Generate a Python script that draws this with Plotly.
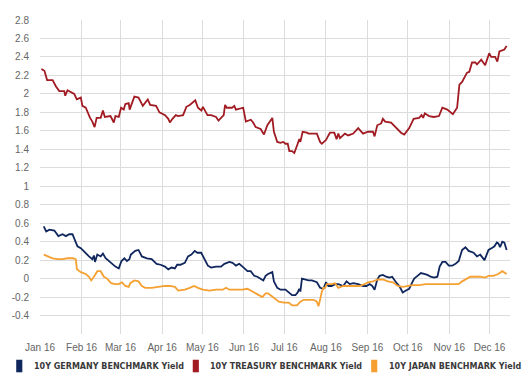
import pandas as pd
import plotly.graph_objects as go

# ---- data (day offset from 2016-01-01, yield %) ----
us_days = [1, 3.3, 5.3, 9.4, 11.9, 14.4, 18.1, 18.8, 20.5, 25.5, 27.4, 30.4, 31.6, 34.1, 37.3, 39, 40.7,
           42.2, 45.2, 46.9, 48.3, 52.5, 55, 56.2, 58.7, 60.4, 62.4, 63.6, 66.1, 66.8, 70.3, 73.4, 76.6,
           80.3, 82.1, 86.5, 89, 93.2, 95.6, 96.8, 98.7, 101.2, 102.9, 104.9, 106.6, 109.1, 111.6, 115.7,
           117.7, 120.2, 121.4, 124.8, 127.5, 131.2, 133, 136.9, 137.9, 139.1, 143.1, 144.8, 146, 151.4,
           153.4, 157.1, 158.8, 160.7, 164.4, 166.9, 169.4, 173.1, 174.3, 176.8, 179.2, 181.2, 182.9,
           184.6, 185.8, 187.8, 189.5, 192, 193.2, 194, 195.7, 198.9, 200.1, 206.3, 208.7, 210, 213.1,
           214.9, 216.1, 219.3, 221, 222.3, 223.5, 227.2, 229.7, 233.4, 237.1, 240.7, 244.4, 248.1, 249.3,
           251.3, 254.2, 255.5, 257.2, 261.6, 265.3, 269, 271.4, 272.7, 275.1, 278.4, 282.5, 284.3, 285.5,
           286.7, 289.9, 293.6, 297.3, 299.8, 303.5, 307.6, 310.8, 312.5, 314.5, 318.2, 319.9, 321.9,
           324.4, 325.6, 328.8, 331.7, 334.7, 336.2, 339.1, 340.8, 342.3, 346, 347.7]
us_vals = [2.27, 2.25, 2.15, 2.15, 2.08, 2.03, 2.03, 1.98, 2.04, 2.0, 1.94, 1.96, 1.87, 1.85, 1.74, 1.70, 1.64,
           1.74, 1.74, 1.82, 1.75, 1.76, 1.69, 1.76, 1.75, 1.85, 1.83, 1.89, 1.90, 1.83, 1.97, 1.96, 1.87,
           1.94, 1.88, 1.87, 1.80, 1.77, 1.73, 1.69, 1.73, 1.77, 1.76, 1.77, 1.77, 1.86, 1.88, 1.93,
           1.85, 1.82, 1.86, 1.77, 1.77, 1.75, 1.71, 1.77, 1.88, 1.85, 1.85, 1.87, 1.83, 1.85,
           1.70, 1.72, 1.69, 1.64, 1.62, 1.56, 1.66, 1.74, 1.59, 1.48, 1.47, 1.48, 1.46,
           1.46, 1.38, 1.38, 1.36, 1.46, 1.51, 1.48, 1.59, 1.58, 1.57, 1.57, 1.48, 1.46, 1.50,
           1.55, 1.58, 1.58, 1.51, 1.57, 1.52, 1.57, 1.55, 1.57, 1.63, 1.57, 1.59, 1.59, 1.54,
           1.66, 1.68, 1.73, 1.70, 1.69, 1.63, 1.58, 1.56, 1.59, 1.63, 1.73, 1.74, 1.77, 1.74,
           1.79, 1.76, 1.75, 1.76, 1.85, 1.83, 1.78, 1.85, 2.10, 2.13, 2.23, 2.24, 2.34,
           2.34, 2.32, 2.37, 2.31, 2.44, 2.40, 2.40, 2.35, 2.46, 2.48, 2.52]

de_days = [2.8, 4.6, 7.0, 10.7, 13.7, 16.8, 19.3, 21.8, 24.2, 26.0, 27.9, 30.4, 32.3, 34.1, 36.5, 39.0, 40.2,
           41.0, 42.7, 45.2, 46.9, 48.9, 51.3, 53.7, 56.2, 58.7, 60.7, 62.9, 64.8, 66.6, 67.7, 71.0, 73.4,
           75.9, 79.6, 83.2, 86.9, 89.9, 93.1, 95.6, 98.0, 100.5, 102.2, 104.6, 107.9, 110.3, 112.8, 115.3,
           117.2, 120.1, 122.7, 125.1, 127.5, 131.2, 134.9, 137.4, 141.1, 143.5, 146.0, 148.5, 150.9, 154.6,
           157.0, 159.6, 162.0, 164.4, 166.4, 168.1, 169.9, 173.1, 174.3, 176.8, 179.2, 182.9, 185.4, 187.8,
           190.3, 192.0, 193.2, 194.0, 195.2, 197.6, 200.1, 202.6, 206.3, 208.7, 211.2, 213.1, 214.9, 217.3,
           219.8, 222.3, 226.0, 228.4, 230.8, 233.4, 237.1, 240.7, 243.2, 245.6, 247.6, 249.3, 251.3, 253.0,
           255.5, 257.9, 260.4, 262.4, 264.1, 265.8, 267.7, 270.3, 272.7, 275.1, 277.1, 278.8, 281.3, 283.8,
           286.2, 288.7, 291.1, 293.6, 296.1, 297.8, 299.8, 302.2, 304.6, 307.2, 309.6, 312.0, 314.5, 317.0,
           319.4, 323.1, 325.6, 328.0, 331.2, 334.2, 336.7, 338.6, 340.4, 341.5, 342.8, 344.5, 346.0, 347.7]
de_vals = [0.565, 0.51, 0.53, 0.52, 0.46, 0.48, 0.46, 0.48, 0.48, 0.42, 0.35, 0.33, 0.30, 0.28, 0.24, 0.21, 0.25,
           0.18, 0.26, 0.24, 0.27, 0.22, 0.19, 0.17, 0.13, 0.11, 0.19, 0.22, 0.19, 0.21, 0.26, 0.30, 0.31,
           0.24, 0.22, 0.21, 0.16, 0.15, 0.13, 0.10, 0.12, 0.11, 0.15, 0.15, 0.17, 0.24, 0.26, 0.30,
           0.28, 0.28, 0.21, 0.14, 0.12, 0.13, 0.13, 0.16, 0.18, 0.17, 0.14, 0.16, 0.13, 0.08,
           0.08, 0.03, 0.02, 0.00, -0.02, 0.03, 0.05, 0.07, -0.03, -0.10, -0.12, -0.12, -0.15, -0.18,
           -0.18, -0.15, -0.11, -0.14, 0.00, -0.01, -0.02, -0.02, -0.04, -0.10, -0.11, -0.04, -0.08, -0.08,
           -0.06, -0.06, -0.08, -0.03, -0.06, -0.05, -0.06, -0.08, -0.08, -0.06, -0.08, -0.12, -0.01, 0.03,
           0.04, 0.02, 0.01, 0.02, -0.02, -0.05, -0.08, -0.15, -0.13, -0.11, -0.05, 0.00, 0.03, 0.06,
           0.05, 0.04, 0.02, 0.01, 0.02, 0.13, 0.18, 0.18, 0.14, 0.14, 0.16, 0.19, 0.31, 0.34,
           0.30, 0.28, 0.24, 0.26, 0.20, 0.31, 0.33, 0.35, 0.39, 0.38, 0.34, 0.40, 0.39, 0.31]

jp_days = [2.8, 5.8, 9.4, 13.1, 16.8, 20.5, 24.2, 26.7, 27.5, 30.4, 34.1, 36.5, 38.2, 40.7, 42.7, 45.2, 47.6,
           50.0, 53.0, 56.2, 58.7, 61.1, 63.6, 66.1, 67.3, 70.3, 73.4, 75.9, 78.4, 83.2, 88.2, 90.6, 93.1,
           96.8, 100.5, 103.0, 107.9, 111.6, 114.8, 117.7, 121.4, 126.3, 131.2, 136.2, 138.6, 141.1, 146.0,
           150.9, 154.6, 158.3, 162.0, 165.7, 168.1, 169.9, 171.8, 174.3, 178.0, 181.7, 185.4, 187.8, 191.5,
           194.0, 196.5, 200.1, 203.8, 206.3, 207.5, 208.7, 210.0, 211.2, 212.4, 213.7, 217.3, 219.8, 222.3,
           226.0, 229.7, 234.5, 238.2, 241.9, 244.4, 248.1, 251.8, 255.5, 259.2, 262.9, 266.6, 270.3, 273.9,
           277.6, 282.5, 287.5, 292.4, 297.3, 302.2, 307.2, 312.0, 314.5, 317.0, 320.7, 324.4, 328.0, 331.7,
           334.2, 337.9, 341.5, 344.5, 346.0, 347.7]
jp_vals = [0.26, 0.24, 0.22, 0.21, 0.21, 0.22, 0.22, 0.21, 0.10, 0.07, 0.05, 0.02, -0.02, 0.03, 0.08, 0.08, 0.02,
           0.00, -0.05, -0.06, -0.06, -0.04, -0.08, -0.09, -0.05, -0.02, -0.03, -0.08, -0.10, -0.10, -0.09, -0.08, -0.08,
           -0.08, -0.09, -0.13, -0.12, -0.10, -0.08, -0.10, -0.12, -0.13, -0.12, -0.12, -0.10, -0.12, -0.12,
           -0.12, -0.11, -0.14, -0.17, -0.20, -0.16, -0.16, -0.18, -0.21, -0.25, -0.26, -0.26, -0.29, -0.29,
           -0.25, -0.23, -0.23, -0.23, -0.25, -0.30, -0.23, -0.14, -0.10, -0.10, -0.06, -0.06, -0.05, -0.10,
           -0.08, -0.08, -0.08, -0.08, -0.06, -0.04, -0.03, -0.01, -0.01, -0.03, -0.04, -0.08, -0.09, -0.08,
           -0.07, -0.07, -0.06, -0.06, -0.06, -0.06, -0.06, -0.06, -0.03, -0.01, 0.02, 0.02, 0.02, 0.01,
           0.03, 0.03, 0.05, 0.08, 0.07, 0.05]

series_names = ["10Y GERMANY BENCHMARK Yield", "10Y TREASURY BENCHMARK Yield", "10Y JAPAN BENCHMARK Yield"]
series_colors = ["#10275e", "#a11b22", "#f5a030"]
y_tick_values = [-0.4, -0.2, 0, 0.2, 0.4, 0.6, 0.8, 1, 1.2, 1.4, 1.6, 1.8, 2, 2.2, 2.4, 2.6, 2.8]
y_tick_labels = ["-0.4", "-0.2", "0", "0.2", "0.4", "0.6", "0.8", "1", "1.2", "1.4", "1.6", "1.8",
                 "2", "2.2", "2.4", "2.6", "2.8"]

base = pd.Timestamp("2016-01-01")


def to_dates(days):
    return [base + pd.Timedelta(days=d) for d in days]


fig = go.Figure()
all_series = [(de_days, de_vals), (us_days, us_vals), (jp_days, jp_vals)]
for idx in [1, 0, 2]:
    d, v = all_series[idx]
    fig.add_trace(go.Scatter(x=to_dates(d), y=v, mode="lines", name=series_names[idx],
                             line=dict(color=series_colors[idx], width=1.8), showlegend=False))

# manual legend
legend_x = [-0.0506, 0.325, 0.7046]
for i, name in enumerate(series_names):
    fig.add_shape(type="rect", xref="paper", yref="paper",
                  x0=legend_x[i], x1=legend_x[i] + 0.013, y0=-0.122, y1=-0.082,
                  fillcolor=series_colors[i], line=dict(width=0))
    fig.add_annotation(xref="paper", yref="paper", x=legend_x[i] + 0.033, y=-0.102,
                       xanchor="left", yanchor="middle", text="<b>" + name + "</b>", showarrow=False,
                       font=dict(family="DejaVu Sans", size=8, color="#3a3a3a"))

fig.update_layout(
    width=531, height=383,
    margin=dict(l=36, r=21, t=20, b=49),
    paper_bgcolor="white", plot_bgcolor="white",
    font=dict(family="Liberation Sans, Arial", size=10, color="#666666"),
    xaxis=dict(type="date", range=["2016-01-01", "2016-12-16 05:00"],
               dtick="M1", tick0="2016-01-01", tickformat="%b %y",
               showgrid=True, gridcolor="#dcdcdc", gridwidth=1,
               showline=False, zeroline=False, ticks="", ticklabelstandoff=6),
    yaxis=dict(range=[-0.6, 2.8], tickvals=y_tick_values, ticktext=y_tick_labels,
               showgrid=True, gridcolor="#dcdcdc", gridwidth=1,
               showline=False, zeroline=False, ticks="", ticklabelstandoff=10),
)

fig.write_html("out.html", config={"displayModeBar": False},
               post_script="document.body.style.margin='0';")
